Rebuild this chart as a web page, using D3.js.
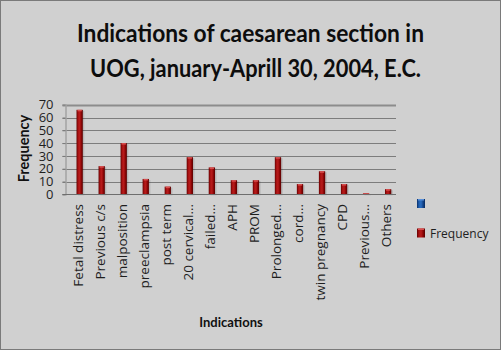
<!DOCTYPE html>
<html>
<head>
<meta charset="utf-8">
<script src="https://cdn.jsdelivr.net/npm/d3@7"></script>
<style>
  body { margin: 0; background: #fff; }
</style>
</head>
<body>
<div id="chart-area"></div>
<script>
// chart data
const categories = ['Fetal distress', 'Previous c/s', 'malposition', 'preeclampsia', 'post term',
  '20 cervical…', 'failed…', 'APH', 'PROM', 'Prolonged…', 'cord…', 'twin pregnancy', 'CPD',
  'Previous…', 'Others'];
const seriesNames = ['', 'Frequency'];
const frequency = [66, 22, 40, 12, 6, 29, 21, 11, 11, 29, 8, 18, 8, 1, 4];
const yTicks = [0, 10, 20, 30, 40, 50, 60, 70];
const titleLines = ['Indications of caesarean section in', 'UOG, january-Aprill 30, 2004, E.C.'];

const W = 501, H = 350;
const plot = {left: 65.5, right: 396, top: 104.7, bottom: 194.3};
const LATO = 'Lato, sans-serif';
const OPEN = '"Open Sans", sans-serif';

const svg = d3.select('#chart-area')
  .append('svg')
  .attr('width', W)
  .attr('height', H);

// gradients for the bars and legend keys
const defs = svg.append('defs');
function barGradient(id, stops) {
  const gr = defs.append('linearGradient').attr('id', id)
    .attr('x1', 0).attr('x2', 1).attr('y1', 0).attr('y2', 0);
  stops.forEach((c, i) => gr.append('stop')
    .attr('offset', i / (stops.length - 1)).attr('stop-color', c));
}
barGradient('redBar', ['#640000', '#a81212', '#b81c1c', '#8e0606', '#560000']);
barGradient('blueBar', ['#0a2f6a', '#1f5fb0', '#2a6dc0', '#14468c', '#082a5e']);

// background + frame
svg.append('rect')
  .attr('x', 0.5).attr('y', 0.5)
  .attr('width', W - 1).attr('height', H - 1)
  .attr('fill', '#d0d0d0')
  .attr('stroke', '#7a7a7a');

// title
svg.selectAll('.title')
  .data(titleLines)
  .enter().append('text')
  .attr('class', 'title')
  .attr('x', (d, i) => i === 0 ? 250.5 : 255.5)
  .attr('y', (d, i) => i === 0 ? 41.5 : 76.5)
  .attr('text-anchor', 'middle')
  .style('font-family', LATO)
  .attr('font-size', '25px')
  .attr('font-weight', 'bold')
  .attr('fill', '#0d0d0d')
  .attr('textLength', (d, i) => i === 0 ? 347 : 331)
  .attr('lengthAdjust', 'spacingAndGlyphs')
  .text(d => d);

// scales
const x = d3.scaleBand()
  .domain(categories)
  .range([plot.left, plot.right]);

const xSeries = d3.scaleBand()
  .domain(seriesNames)
  .range([0, x.bandwidth()])
  .paddingInner(0)
  .paddingOuter(0.75);

const y = d3.scaleLinear()
  .domain([0, 70])
  .range([plot.bottom, plot.top]);

// gridlines
svg.append('g')
  .selectAll('line')
  .data(yTicks)
  .enter().append('line')
  .attr('x1', plot.left - 3)
  .attr('x2', plot.right)
  .attr('y1', d => Math.round(y(d)) + 0.5)
  .attr('y2', d => Math.round(y(d)) + 0.5)
  .attr('stroke', d => d === 70 ? '#8c8c8c' : '#7c7c7c')
  .attr('stroke-width', d => d === 70 ? 2 : 1);

// y axis
const yAxisGroup = svg.append('g')
  .attr('transform', `translate(${plot.left}, 0)`)
  .call(d3.axisLeft(y).tickValues(yTicks).tickSize(3).tickPadding(9));
yAxisGroup.select('.domain').attr('stroke', '#a2a2a2').attr('stroke-width', 1.5);
yAxisGroup.selectAll('.tick line').attr('stroke', '#7c7c7c');
yAxisGroup.selectAll('.tick text')
  .style('font-family', OPEN)
  .style('font-size', '13px')
  .attr('fill', '#1e1e1e');

// bars: the blank series has no values, only the Frequency series is drawn
const barW = xSeries.bandwidth();
const bars = svg.append('g');
frequency.forEach((v, i) => {
  const bx = x(categories[i]) + xSeries('Frequency');
  // soft shadow
  bars.append('rect')
    .attr('x', bx + 1.5).attr('y', y(v) + 1)
    .attr('width', barW).attr('height', plot.bottom - y(v))
    .attr('fill', '#000').attr('opacity', 0.12);
  bars.append('rect')
    .attr('x', bx).attr('y', y(v))
    .attr('width', barW).attr('height', Math.max(plot.bottom - y(v), 0.8))
    .attr('fill', v <= 1 ? '#c84a4a' : 'url(#redBar)');
  if (v > 1) {
    bars.append('rect')
      .attr('x', bx + 1).attr('y', y(v))
      .attr('width', barW - 2).attr('height', 1.5)
      .attr('fill', '#d85050');
  }
});

// x axis line
svg.append('line')
  .attr('x1', plot.left - 3).attr('x2', plot.right)
  .attr('y1', Math.round(plot.bottom) + 0.5).attr('y2', Math.round(plot.bottom) + 0.5)
  .attr('stroke', '#6e6e6e');

// x labels (rotated)
svg.append('g')
  .selectAll('text')
  .data(categories)
  .enter().append('text')
  .attr('transform', d => `translate(${x(d) + x.bandwidth() / 2 + 1.5}, 204) rotate(-90)`)
  .attr('dy', '0.35em')
  .attr('text-anchor', 'end')
  .style('font-family', OPEN)
  .style('font-size', '13.5px')
  .attr('fill', '#1e1e1e')
  .text(d => d);

// axis titles
svg.append('text')
  .attr('transform', 'translate(29, 148.5) rotate(-90)')
  .attr('text-anchor', 'middle')
  .style('font-family', LATO)
  .attr('font-size', '14.5px')
  .attr('font-weight', 'bold')
  .attr('fill', '#111')
  .text('Frequency');

svg.append('text')
  .attr('x', 231)
  .attr('y', 326.5)
  .attr('text-anchor', 'middle')
  .style('font-family', LATO)
  .attr('font-size', '13px')
  .attr('font-weight', 'bold')
  .attr('fill', '#111')
  .text('Indications');

// legend
const legend = svg.append('g')
  .selectAll('g')
  .data(seriesNames)
  .enter().append('g')
  .attr('transform', (d, i) => `translate(417, ${199 + i * 29.5})`);
legend.append('rect')
  .attr('width', 8).attr('height', 9)
  .attr('fill', (d, i) => i === 0 ? 'url(#blueBar)' : 'url(#redBar)');
legend.append('rect')
  .attr('x', 1).attr('width', 6).attr('height', 1.5)
  .attr('fill', (d, i) => i === 0 ? '#5a90d8' : '#d85050');
legend.append('text')
  .attr('x', 13)
  .attr('y', 9)
  .style('font-family', OPEN)
  .style('font-size', '12px')
  .attr('fill', '#1e1e1e')
  .text(d => d);
</script>
</body>
</html>
